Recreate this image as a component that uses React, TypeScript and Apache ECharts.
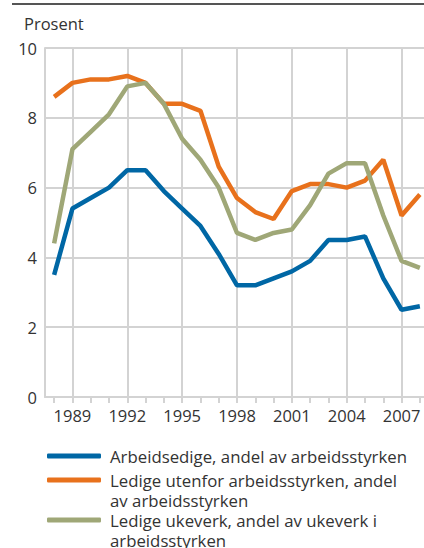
import React, { useEffect, useRef } from "react";
import * as echarts from "echarts";

const years = ["1988", "1989", "1990", "1991", "1992", "1993", "1994", "1995", "1996", "1997", "1998", "1999", "2000", "2001", "2002", "2003", "2004", "2005", "2006", "2007", "2008"];
const arbeidsledige = [3.5, 5.4, 5.7, 6.0, 6.5, 6.5, 5.9, 5.4, 4.9, 4.1, 3.2, 3.2, 3.4, 3.6, 3.9, 4.5, 4.5, 4.6, 3.4, 2.5, 2.6];
const ledigeUtenfor = [8.6, 9.0, 9.1, 9.1, 9.2, 9.0, 8.4, 8.4, 8.2, 6.6, 5.7, 5.3, 5.1, 5.9, 6.1, 6.1, 6.0, 6.2, 6.8, 5.2, 5.8];
const ledigeUkeverk = [4.4, 7.1, 7.6, 8.1, 8.9, 9.0, 8.4, 7.4, 6.8, 6.0, 4.7, 4.5, 4.7, 4.8, 5.5, 6.4, 6.7, 6.7, 5.2, 3.9, 3.7];
const labelYears = ["1989", "1992", "1995", "1998", "2001", "2004", "2007"];
const seriesNames = [
  "Arbeidsedige, andel av arbeidsstyrken",
  "Ledige utenfor arbeidsstyrken, andel av arbeidsstyrken",
  "Ledige ukeverk, andel av ukeverk i arbeidsstyrken",
];
const legendFirstLines = [
  "Arbeidsedige, andel av arbeidsstyrken",
  "Ledige utenfor arbeidsstyrken, andel",
  "Ledige ukeverk, andel av ukeverk i",
];
const legendSecondLines = ["", "av arbeidsstyrken", "arbeidsstyrken"];
const colors = ["#0067a5", "#e8711c", "#9fa777"];

const FONT = "'Open Sans', 'Noto Sans', sans-serif";
const GRID = "#d3d3d3";
const TEXT = "#333";

export default function App() {
  const ref = useRef<HTMLDivElement>(null);
  useEffect(() => {
    if (!ref.current) return;
    const chart = echarts.init(ref.current, null, { renderer: "svg" });
    const legendCenters = [456, 480, 520];
    const secondLineY = [0, 500, 540];
    chart.setOption({
      animation: false,
      title: {
        text: "Prosent",
        left: 19,
        top: 10,
        textStyle: { fontFamily: FONT, fontSize: 16.5, fontWeight: "normal", color: TEXT },
      },
      graphic: [
        {
          type: "line",
          shape: { x1: 12, y1: 4, x2: 424, y2: 4 },
          style: { stroke: "#555", lineWidth: 2 },
        },
        ...[1, 2].map((i) => ({
          type: "text",
          left: 110,
          top: secondLineY[i] - 10,
          style: {
            text: legendSecondLines[i],
            fontFamily: FONT,
            fontSize: 16.8,
            lineHeight: 20,
            fill: TEXT,
          },
        })),
      ],
      grid: { left: 45, right: 0, top: 48, bottom: 151, containLabel: false },
      xAxis: {
        type: "category",
        data: years,
        boundaryGap: true,
        axisLine: { show: true, lineStyle: { color: GRID, width: 2 } },
        axisTick: { show: true, alignWithLabel: true, interval: 0, length: 6, lineStyle: { color: GRID, width: 2 } },
        splitLine: { show: false },
        axisLabel: {
          margin: 10,
          fontFamily: FONT,
          fontSize: 16.5,
          color: TEXT,
          interval: (_i: number, v: string) => labelYears.indexOf(String(v)) >= 0,
        },
      },
      yAxis: {
        type: "value",
        min: 0,
        max: 10,
        interval: 2,
        axisLine: { show: true, lineStyle: { color: GRID, width: 2 } },
        axisTick: { show: false },
        splitLine: { show: true, lineStyle: { color: GRID, width: 2 } },
        axisLabel: { margin: 8, fontFamily: FONT, fontSize: 16.5, color: TEXT },
      },
      legend: seriesNames.map((n, i) => ({
        orient: "vertical",
        left: 47,
        top: legendCenters[i] - 10,
        padding: 0,
        itemWidth: 54,
        itemHeight: 5,
        itemGap: 0,
        icon: "roundRect",
        selectedMode: false,
        data: [{ name: n, itemStyle: { color: colors[i] } }],
        formatter: () => "{s|}" + legendFirstLines[i],
        textStyle: {
          fontFamily: FONT,
          fontSize: 16.8,
          color: TEXT,
          lineHeight: 20,
          rich: { s: { width: 4, fontSize: 16.8, lineHeight: 20 } },
        },
      })),
      series: [
        {
          name: seriesNames[0],
          type: "line",
          data: arbeidsledige,
          z: 3,
          symbol: "none",
          lineStyle: { color: colors[0], width: 4.5 },
          itemStyle: { color: colors[0] },
          markLine: {
            silent: true,
            z: 1,
            symbol: ["none", "none"],
            label: { show: false },
            lineStyle: { color: GRID, width: 2, type: "solid" },
            data: labelYears.map((y) => ({ xAxis: y })),
          },
        },
        {
          name: seriesNames[1],
          type: "line",
          data: ledigeUtenfor,
          z: 3,
          symbol: "none",
          lineStyle: { color: colors[1], width: 4.5 },
          itemStyle: { color: colors[1] },
        },
        {
          name: seriesNames[2],
          type: "line",
          data: ledigeUkeverk,
          z: 3,
          symbol: "none",
          lineStyle: { color: colors[2], width: 4.5 },
          itemStyle: { color: colors[2] },
        },
      ],
    });
    return () => chart.dispose();
  }, []);
  return (
    <div style={{ position: "absolute", left: 0, top: 0, width: 424, height: 548, overflow: "hidden" }}>
      <div ref={ref} style={{ width: 429, height: 548 }} />
    </div>
  );
}
